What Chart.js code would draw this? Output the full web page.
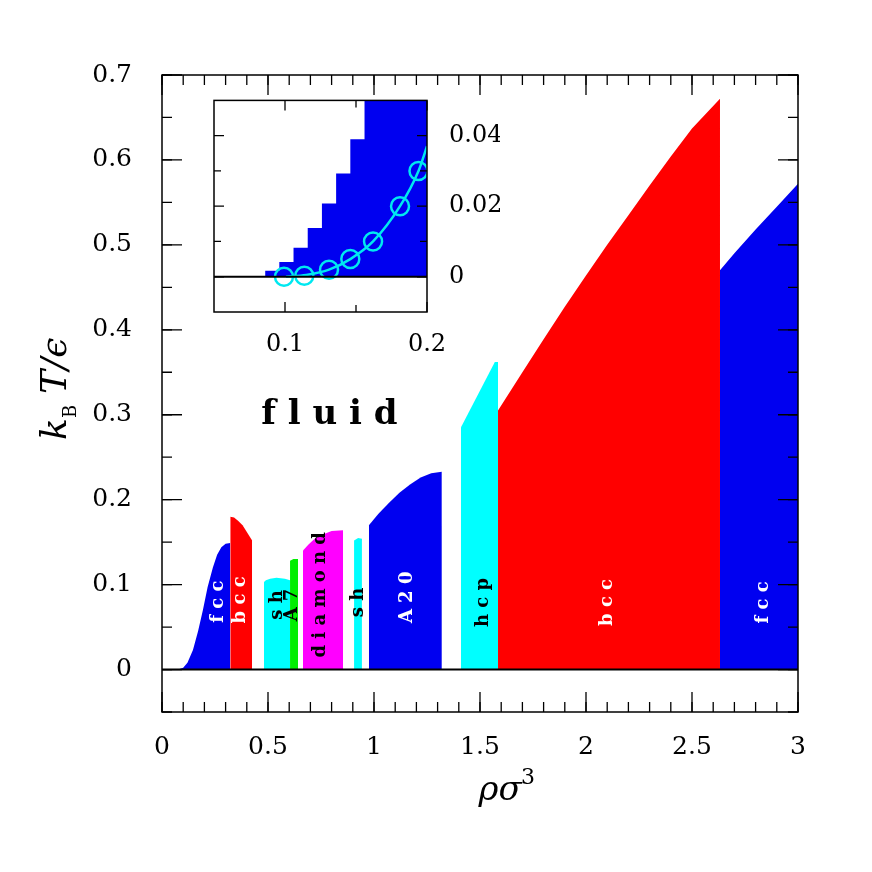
<!DOCTYPE html>
<html><head><meta charset="utf-8">
<script src="https://cdn.jsdelivr.net/npm/chart.js@4/dist/chart.umd.min.js"></script>
<style>html,body{margin:0;background:#fff}#w{position:relative;width:872px;height:872px}
#main{position:absolute;left:0;top:0}#ins{position:absolute;left:200px;top:72px}</style>
</head><body><div id="w"><canvas id="main" width="872" height="872"></canvas><canvas id="ins" width="300" height="288"></canvas></div>
<script>
// Phase regions: [x, kT] boundary points (top edge), colours, labels
const fccLow = [[0.075,0],[0.10,0.002],[0.12,0.008],[0.146,0.023],[0.17,0.045],[0.193,0.07],[0.215,0.097],[0.24,0.12],[0.26,0.135],[0.28,0.144],[0.30,0.148],[0.322,0.149],[0.322,0]];
const bccLow = [[0.322,0],[0.322,0.18],[0.34,0.179],[0.36,0.175],[0.38,0.17],[0.40,0.162],[0.425,0.152],[0.425,0]];
const sh1 = [[0.481,0],[0.481,0.103],[0.49,0.105],[0.51,0.107],[0.54,0.108],[0.58,0.107],[0.604,0.105],[0.604,0]];
const a7 = [[0.604,0],[0.604,0.128],[0.62,0.13],[0.642,0.13],[0.642,0]];
const diamond = [[0.665,0],[0.665,0.14],[0.69,0.147],[0.72,0.154],[0.75,0.158],[0.80,0.163],[0.854,0.164],[0.854,0]];
const sh2 = [[0.906,0],[0.906,0.152],[0.925,0.155],[0.943,0.154],[0.943,0]];
const a20 = [[0.976,0],[0.976,0.17],[1.02,0.183],[1.07,0.196],[1.12,0.208],[1.17,0.218],[1.22,0.226],[1.27,0.231],[1.32,0.233],[1.32,0]];
const hcp = [[1.41,0],[1.41,0.285],[1.57,0.362],[1.585,0.362],[1.585,0]];
const bccHigh = [[1.585,0],[1.585,0.305],[1.7,0.350],[1.8,0.389],[1.9,0.427],[2.0,0.464],[2.1,0.500],[2.2,0.535],[2.3,0.570],[2.4,0.604],[2.5,0.637],[2.632,0.672],[2.632,0]];
const fccHigh = [[2.632,0],[2.632,0.47],[2.7,0.49],[2.8,0.518],[2.9,0.545],[3.0,0.572],[3.0,0]];
const regions = [fccLow,bccLow,sh1,a7,diamond,sh2,a20,hcp,bccHigh,fccHigh];
const regionColors = ['#0000f0','#ff0000','#00ffff','#00ee00','#ff00ff','#00ffff','#0000f0','#00ffff','#ff0000','#0000f0'];
const phaseLabels = [['f c c',0.264,0.08,'#fff'],['b c c',0.37,0.082,'#fff'],['s h',0.543,0.076,'#000'],['A 7',0.613,0.076,'#000'],['d i a m o n d',0.745,0.088,'#000'],['s h',0.925,0.079,'#000'],['A 2 0',1.156,0.085,'#fff'],['h c p',1.514,0.079,'#000'],['b c c',2.10,0.079,'#fff'],['f c c',2.835,0.079,'#fff']];
const xTicksMain = [0,0.5,1,1.5,2,2.5,3];
const yTicksMain = [0,0.1,0.2,0.3,0.4,0.5,0.6,0.7];
// inset
const insetSteps = [[0.086,0],[0.086,0.001],[0.096,0.0017],[0.106,0.0042],[0.116,0.0082],[0.126,0.0138],[0.136,0.0208],[0.146,0.0293],[0.156,0.039],[0.166,0.06],[0.2,0.06]];
const insetCircles = [[0.0993,0],[0.1136,0.0003],[0.131,0.002],[0.146,0.005],[0.162,0.010],[0.181,0.020],[0.194,0.030]];
const insetCurve = [[0.1007,0],[0.115,0.0005],[0.131,0.002],[0.146,0.005],[0.162,0.010],[0.181,0.020],[0.194,0.030],[0.2,0.037]];

const SERIF = '"DejaVu Serif", serif';
const pts = a => a.map(p=>({x:p[0],y:p[1]}));

const framePlugin = {
  id:'frame',
  afterDatasetsDraw(chart){
    const o = chart.options.plugins.frame; if(!o) return;
    const {ctx, chartArea:a, scales:{x,y}} = chart;
    ctx.save();
    ctx.strokeStyle='#000'; ctx.lineWidth=1.5;
    ctx.strokeRect(a.left,a.top,a.right-a.left,a.bottom-a.top);
    ctx.lineWidth=2;
    ctx.beginPath(); ctx.moveTo(a.left,y.getPixelForValue(0)); ctx.lineTo(a.right,y.getPixelForValue(0)); ctx.stroke();
    ctx.lineWidth=1.3;
    const tk=(vals,len,isX)=>{
      vals.forEach(v=>{
        ctx.beginPath();
        if(isX){const p=x.getPixelForValue(v);
          ctx.moveTo(p,a.bottom);ctx.lineTo(p,a.bottom-len);
          ctx.moveTo(p,a.top);ctx.lineTo(p,a.top+len);}
        else{const p=y.getPixelForValue(v);
          ctx.moveTo(a.left,p);ctx.lineTo(a.left+len,p);
          ctx.moveTo(a.right,p);ctx.lineTo(a.right-len,p);}
        ctx.stroke();
      });
    };
    tk(o.xMajor,o.maj,true); tk(o.xMinor,o.min,true);
    tk(o.yMajor,o.maj,false); tk(o.yMinor,o.min,false);
    if(o.texts){
      o.texts.forEach(t=>{
        ctx.save();
        ctx.translate(x.getPixelForValue(t[1]),y.getPixelForValue(t[2]));
        ctx.rotate(-Math.PI/2);
        ctx.fillStyle=t[3]; ctx.font='bold 18px '+SERIF;
        ctx.textAlign='center'; ctx.textBaseline='middle';
        ctx.fillText(t[0],0,0);
        ctx.restore();
      });
      ctx.fillStyle='#000'; ctx.font='bold 34px '+SERIF; ctx.textAlign='center'; ctx.textBaseline='middle';
      ctx.fillText('f l u i d', x.getPixelForValue(0.79), y.getPixelForValue(0.30));
      ctx.font='italic 34px '+SERIF; ctx.textBaseline='alphabetic';
      ctx.fillText('ρσ', 500, 800);
      ctx.font='22px '+SERIF; ctx.textAlign='left'; ctx.fillText('3', 521, 784);
      ctx.save(); ctx.translate(66,372); ctx.rotate(-Math.PI/2); ctx.textAlign='left';
      ctx.font='italic 36px '+SERIF; ctx.fillText('k',-68,0);
      ctx.font='18px '+SERIF; ctx.fillText('B',-46,10);
      ctx.font='italic 36px '+SERIF; ctx.fillText('T/ϵ',-22,0);
      ctx.restore();
    }
    ctx.restore();
  }
};

const range=(a,b,s)=>{const r=[];for(let v=a;v<=b+1e-9;v+=s)r.push(+v.toFixed(4));return r;};

new Chart(document.getElementById('main'),{
  type:'line',
  data:{datasets:regions.map((r,i)=>({data:pts(r),borderWidth:0,borderColor:regionColors[i],backgroundColor:regionColors[i],fill:'origin',pointRadius:0,tension:0}))},
  options:{responsive:false,animation:false,events:[],
    layout:{padding:{top:75,right:74,left:0,bottom:0}},
    plugins:{legend:{display:false},tooltip:{enabled:false},
      frame:{xMajor:xTicksMain,xMinor:range(0,3,0.1),yMajor:yTicksMain,yMinor:range(-0.05,0.7,0.05),maj:20,min:10,texts:phaseLabels}},
    scales:{
      x:{type:'linear',min:0,max:3,grid:{display:false},border:{display:false},
        afterFit:s=>{s.height=160;},
        afterBuildTicks:s=>{s.ticks=xTicksMain.map(v=>({value:v}));},
        ticks:{color:'#000',font:{family:SERIF,size:25},padding:12,maxRotation:0,callback:v=>String(v)}},
      y:{type:'linear',min:-0.05,max:0.7,grid:{display:false},border:{display:false},
        afterFit:s=>{s.width=162;},
        afterBuildTicks:s=>{s.ticks=yTicksMain.map(v=>({value:v}));},
        ticks:{color:'#000',font:{family:SERIF,size:25},padding:22,callback:v=>String(v)}}
    }},
  plugins:[framePlugin]
});

new Chart(document.getElementById('ins'),{
  type:'line',
  data:{datasets:[
    {data:pts(insetCircles),order:0,showLine:false,pointRadius:9,pointBorderWidth:2.5,pointBorderColor:'#00e8f0',pointBackgroundColor:'rgba(0,0,0,0)'},
    {data:pts(insetCurve),order:1,borderColor:'#00e8f0',borderWidth:2.5,fill:false,pointRadius:0,cubicInterpolationMode:'monotone'},
    {data:pts(insetSteps),order:2,stepped:'after',borderWidth:0,backgroundColor:'#0000f0',fill:'origin',pointRadius:0}
  ]},
  options:{responsive:false,animation:false,events:[],
    layout:{padding:{top:10,left:14,right:0,bottom:0}},
    plugins:{legend:{display:false},tooltip:{enabled:false},
      frame:{xMajor:[0.1,0.2],xMinor:[0.15],yMajor:[0,0.02,0.04],yMinor:[0.01,0.03],maj:10,min:7}},
    scales:{
      x:{type:'linear',min:0.05,max:0.2,grid:{display:false},border:{display:false},
        afterFit:s=>{s.height=48;},
        afterBuildTicks:s=>{s.ticks=[0.1,0.2].map(v=>({value:v}));},
        ticks:{color:'#000',font:{family:SERIF,size:24},padding:10,maxRotation:0,callback:v=>String(v)}},
      y:{type:'linear',position:'right',min:-0.01,max:0.05,grid:{display:false},border:{display:false},
        afterFit:s=>{s.width=73;},
        afterBuildTicks:s=>{s.ticks=[0,0.02,0.04].map(v=>({value:v}));},
        ticks:{color:'#000',font:{family:SERIF,size:24},padding:14,callback:v=>String(v)}}
    }},
  plugins:[framePlugin]
});
</script></body></html>
